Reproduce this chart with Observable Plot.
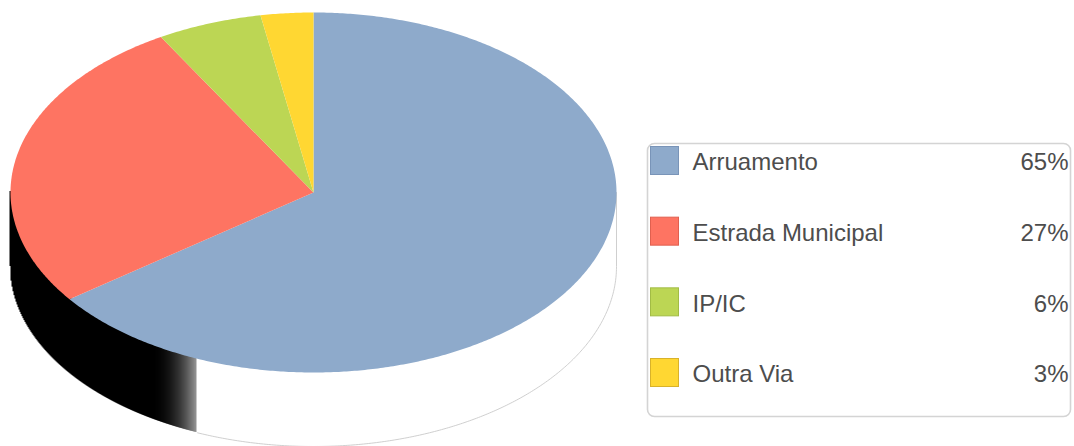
<!DOCTYPE html>
<html>
<head>
<meta charset="utf-8">
<script src="https://cdn.jsdelivr.net/npm/d3@7"></script>
<script src="https://cdn.jsdelivr.net/npm/@observablehq/plot@0.6"></script>
<style>
  html, body { margin: 0; padding: 0; background: #fff; }
  svg { display: block; }
</style>
</head>
<body>
<div id="chart"></div>
<script>
// Data
const categories = ["Arruamento", "Estrada Municipal", "IP/IC", "Outra Via"];
const values = [64.9, 26.7, 5.6, 2.8];
const labels = ["65%", "27%", "6%", "3%"];
const colors = ["#8eaacb", "#fe7462", "#bcd654", "#ffd732"];
const borders = ["#7994b8", "#e0604f", "#a2bc45", "#d9b22a"];

// Layout
const W = 1074, H = 446;
const cx = 313, cy = 192, rx = 303, ry = 180, depth = 74;
const pt = a => [cx + rx * Math.sin(a), cy - ry * Math.cos(a)];

const arcs = d3.pie().sort(null)(values);
const slicePts = [];
arcs.forEach((a, i) => {
  const k = categories[i], col = colors[i];
  slicePts.push({ k, col, x: cx, y: cy });
  const n = Math.max(4, Math.ceil((a.endAngle - a.startAngle) / (Math.PI / 360)));
  for (let j = 0; j <= n; j++) {
    const t = a.startAngle + (a.endAngle - a.startAngle) * j / n;
    const [x, y] = pt(t);
    slicePts.push({ k, col, x, y });
  }
  slicePts.push({ k, col, x: cx, y: cy });
});

// Side of the disc: one column per pixel, shaded by x
const shade = x => {
  if (x < 150) return "#000";
  if (x > 196.5) return "#fff";
  const s = Math.pow((x - 150) / 46.5, 2.2);
  const v = Math.round(150 * s);
  return `rgb(${v},${v},${v})`;
};
const sideCols = [];
for (let x = cx - rx; x <= cx + rx; x += 1) {
  const u = (x - cx) / rx;
  const yTop = cy + ry * Math.sqrt(Math.max(0, 1 - u * u));
  const yEdge = cy + ry * Math.sqrt(Math.max(0, 1 - Math.min(1, Math.abs(u) + 0.5 / rx) ** 2));
  sideCols.push({ x, y1: Math.min(yTop, yEdge) - 1, y2: yTop + depth, c: shade(x) });
}
const N = 360;
const rimPts = [{ x: cx + rx, y: cy }];
for (let j = 0; j <= N; j++) {
  const t = Math.PI / 2 + Math.PI * j / N;
  const [x, y] = pt(t);
  if (x > 196) rimPts.push({ x, y: y + depth });
}

// Legend layout
const lg = { x1: 647.5, x2: 1070.5, y1: 143.5, y2: 416.5 };
const rows = categories.map((c, i) => ({
  c, label: labels[i], color: colors[i], border: borders[i],
  cy: 160.5 + 70.67 * i
}));

const font = "'Liberation Sans', Arial, Helvetica, sans-serif";

const svg = Plot.plot({
  width: W, height: H,
  margin: 0,
  x: { domain: [0, W], range: [0, W], axis: null },
  y: { domain: [0, H], range: [0, H], axis: null },
  color: { type: "identity" },
  style: { fontFamily: font, background: "white" },
  marks: [
    Plot.ruleX(sideCols, { x: "x", y1: "y1", y2: "y2", stroke: "c", strokeWidth: 2 }),
    Plot.line(rimPts, { x: "x", y: "y", stroke: "#c9c9c9", strokeWidth: 0.9 }),
    Plot.line(slicePts, { x: "x", y: "y", z: "k", fill: "col", stroke: "none" }),
    Plot.rect([lg], { x1: "x1", x2: "x2", y1: "y1", y2: "y2", rx: 7, fill: "white", stroke: "#d4d4d4", strokeWidth: 1.6 }),
    Plot.rect(rows, {
      x1: () => 650.5, x2: () => 678.5,
      y1: d => d.cy - 14, y2: d => d.cy + 14,
      fill: "color", stroke: "border", strokeWidth: 1
    }),
    Plot.text(rows, {
      x: () => 692, y: d => d.cy + 1.8, text: "c",
      textAnchor: "start", fontSize: 24, fill: "#4d4d4d", fontFamily: font
    }),
    Plot.text(rows, {
      x: () => 1068, y: d => d.cy + 1.8, text: "label",
      textAnchor: "end", fontSize: 24, fill: "#4d4d4d", fontFamily: font
    })
  ]
});

document.getElementById("chart").appendChild(svg);
</script>
</body>
</html>
